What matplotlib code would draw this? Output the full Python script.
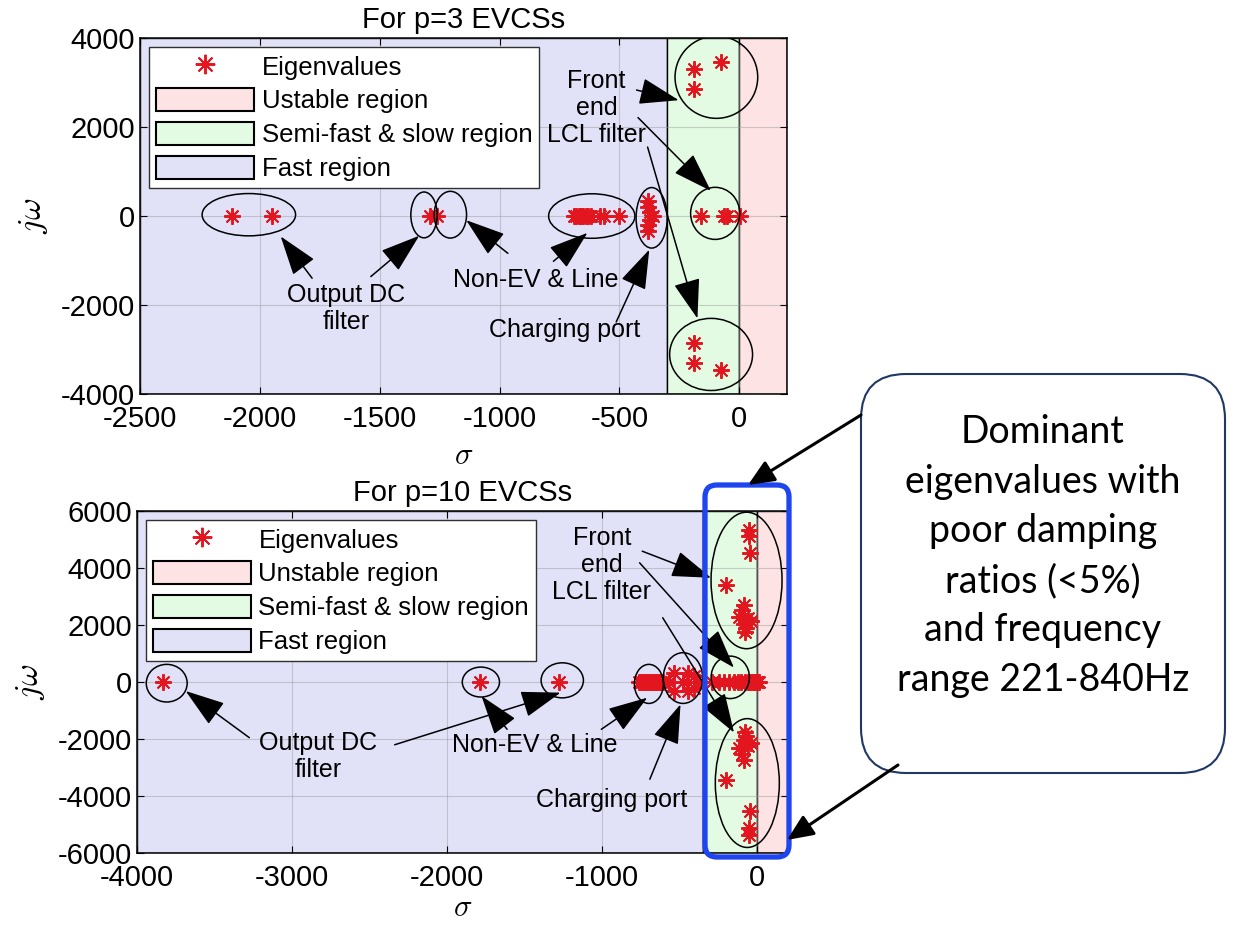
import numpy as np
import matplotlib
matplotlib.use('Agg')
import matplotlib.pyplot as plt
from matplotlib.patches import Ellipse, Patch, FancyBboxPatch, FancyArrowPatch
from matplotlib.lines import Line2D

plt.rcParams['font.family'] = ['Liberation Sans', 'DejaVu Sans']
plt.rcParams['mathtext.fontset'] = 'cm'
plt.rcParams['axes.unicode_minus'] = False

# ---- p=3 eigenvalues (sigma, j*omega)
p3_sigma = [-2115, -1950, -1290, -1260,
            -690, -680, -670, -660, -650, -640, -630, -620, -580, -565, -500,
            -380, -380, -380, -380, -372, -372, -360,
            -160, -65, -50, 5,
            -190, -190, -190, -190, -75, -75]
p3_omega = [0, 0, 0, 0,
            0, 0, 0, 0, 0, 0, 0, 0, 0, 0, 0,
            330, -330, 200, -200, 80, -80, 0,
            0, 0, 0, 0,
            3310, -3310, 2850, -2850, 3470, -3470]

# ---- p=10 eigenvalues
p10_sigma = [-3830, -1787, -1277,
             -760, -748, -736, -724, -712, -700, -688, -676, -664, -652, -640, -628, -616, -604,
             -565, -533, -533, -480, -447, -447, -405, -405, -372,
             -290, -245, -210, -180, -150, -120, -100, -80, -60, -45, -30, -20, -10, 0, 8, 15,
             -49, -49, -53, -53, -43, -43, -200, -200, -81, -81, -114, -114,
             -60, -60, -81, -81, -75, -75, -38, -38, -95, -95, -70, -70]
p10_omega = [0, 0, 0,
             0, 0, 0, 0, 0, 0, 0, 0, 0, 0, 0, 0, 0, 0,
             0, 300, -300, 0, 300, -300, 220, -220, 0,
             0, 0, 0, 0, 0, 0, 0, 0, 0, 0, 0, 0, 0, 0, 0, 0,
             5350, -5350, 5120, -5120, 4520, -4520, 3420, -3420, 2720, -2720, 2300, -2300,
             2240, -2240, 2030, -2030, 1740, -1740, 2140, -2140, 2520, -2520, 1900, -1900]

# group ellipses: (center sigma, center omega, width, height)
p3_groups = [(-2046, 30, 390, 950), (-1315, 25, 110, 1030), (-1205, 30, 135, 1050),
             (-615, 0, 360, 1000), (-365, -40, 130, 1360), (-100, 60, 205, 1170),
             (-95, 3120, 345, 1850), (-117, -3110, 346, 1620)]
p10_groups = [(-3808, -40, 264, 1320), (-1781, 0, 240, 1050), (-1256, 60, 273, 1230),
              (-697, -65, 187, 1370), (-477, 140, 254, 1780), (-172, 165, 247, 1490),
              (-67, 3565, 458, 4790), (-62, -3544, 413, 4520)]

# labels (text, sigma, omega)
p3_labels = [('Output DC\nfilter', -1640, -2070), ('Non-EV & Line', -850, -1434),
             ('Charging port', -728, -2560), ('Front\nend\nLCL filter', -595, 2435)]
p10_labels = [('Output DC\nfilter', -2830, -2625), ('Non-EV & Line', -1432, -2222),
              ('Charging port', -938, -4135), ('Front\nend\nLCL filter', -1000, 4100)]

# arrows: (tail sigma, tail omega, tip sigma, tip omega)
p3_arrows = [(-1782, -1397, -1913, -458), (-1537, -1360, -1335, -443),
             (-965, -838, -1139, -93), (-775, -1017, -633, -378),
             (-513, -2380, -375, -755), (-428, 2831, -252, 2603),
             (-422, 2212, -118, 565), (-382, 1549, -174, -2302)]
p10_arrows = [(-3275, -1952, -3686, -314), (-2337, -2200, -1267, -372),
              (-1612, -1658, -1777, -490), (-1004, -1658, -707, -548),
              (-691, -3410, -493, -782), (-740, 4592, -296, 3659),
              (-757, 4184, -148, 505), (-608, 2257, -148, -1773)]

red_c = '#fde3e3'
green_c = '#e2fbe2'
blue_c = '#e1e1f8'
star = (8, 2, 0)
star_col = '#e3161f'

fig = plt.figure(figsize=(12.35, 9.25), dpi=100)
ax1 = fig.add_axes([0.1134, 0.574, 0.5239, 0.3849])
ax2 = fig.add_axes([0.1109, 0.0778, 0.5271, 0.3697])


def draw_panel(ax, sig, om, groups, labels, arrows, xlim, ylim, split, title, unst, xpad):
    ax.axvspan(xlim[0], split, facecolor=blue_c, edgecolor='k', lw=1, zorder=0.5)
    ax.axvspan(split, 0, facecolor=green_c, edgecolor='k', lw=1, zorder=0.5)
    ax.axvspan(0, xlim[1], facecolor=red_c, edgecolor='k', lw=1, zorder=0.5)
    ax.plot(sig, om, linestyle='none', marker=star, ms=12, mew=1.4,
            color=star_col, zorder=3)
    for cx, cy, w, h in groups:
        ax.add_patch(Ellipse((cx, cy), w, h, fill=False, ec='k', lw=1.1, zorder=4))
    for txt, x, y in labels:
        ax.text(x, y, txt, ha='center', va='center', fontsize=18, linespacing=1.15, zorder=5)
    for x0, y0, x1, y1 in arrows:
        ax.annotate('', xy=(x1, y1), xytext=(x0, y0), zorder=5,
                    arrowprops=dict(arrowstyle='-|>,head_length=1.25,head_width=0.42',
                                    color='k', lw=1.1, mutation_scale=20,
                                    shrinkA=0, shrinkB=0))
    ax.set_xlim(xlim)
    ax.set_ylim(ylim)
    ax.grid(True, color='#a0a0a0', lw=0.8, alpha=0.5)
    ax.tick_params(direction='in', labelsize=21, top=True, right=True, length=5)
    ax.tick_params(axis='x', pad=8)
    ax.set_title(title, fontsize=21, pad=7)
    ax.set_xlabel(r'$\sigma$', fontsize=22, labelpad=xpad)
    ax.set_ylabel(r'$j\omega$', fontsize=24, labelpad=8)
    for s in ax.spines.values():
        s.set_linewidth(1.1)
    handles = [Line2D([], [], linestyle='none', marker=star, ms=14, mew=1.4, color=star_col),
               Patch(facecolor=red_c, edgecolor='k', lw=1.5),
               Patch(facecolor=green_c, edgecolor='k', lw=1.5),
               Patch(facecolor=blue_c, edgecolor='k', lw=1.5)]
    leg = ax.legend(handles, ['Eigenvalues', unst, 'Semi-fast & slow region', 'Fast region'],
                    loc='upper left', fontsize=18.5, fancybox=False, framealpha=1,
                    edgecolor='#303030', handlelength=3.8, handleheight=1.0,
                    labelspacing=0.33, handletextpad=0.3, borderpad=0.28,
                    borderaxespad=0.35)
    leg.get_frame().set_linewidth(1.0)
    leg.set_zorder(6)


draw_panel(ax1, p3_sigma, p3_omega, p3_groups, p3_labels, p3_arrows,
           (-2500, 200), (-4000, 4000), -300, 'For p=3 EVCSs', 'Ustable region', 6)
ax1.set_xticks([-2500, -2000, -1500, -1000, -500, 0])
ax1.set_yticks([-4000, -2000, 0, 2000, 4000])

draw_panel(ax2, p10_sigma, p10_omega, p10_groups, p10_labels, p10_arrows,
           (-4000, 200), (-6000, 6000), -350, 'For p=10 EVCSs', 'Unstable region', 1)
ax2.set_xticks([-4000, -3000, -2000, -1000, 0])
ax2.set_yticks([-6000, -4000, -2000, 0, 2000, 4000, 6000])

# highlight and call-out (figure inches)
tr = fig.dpi_scale_trans
fig.patches.append(FancyBboxPatch((7.05, 0.68), 0.84, 3.72,
                                  boxstyle='round,pad=0,rounding_size=0.12',
                                  transform=tr, fill=False, ec='#1f45ee', lw=3.8, zorder=10))
fig.patches.append(FancyBboxPatch((8.61, 1.52), 3.64, 3.99,
                                  boxstyle='round,pad=0,rounding_size=0.45',
                                  transform=tr, fc='white', ec='#1f3864', lw=1.5, zorder=10))
fig.text(10.43 / 12.35, 3.69 / 9.25,
         'Dominant\neigenvalues with\npoor damping\nratios (<5%)\nand frequency\nrange 221-840Hz',
         ha='center', va='center', fontsize=27, family=['Lato', 'DejaVu Sans'],
         linespacing=1.47, zorder=11)
for (x0, y0), (x1, y1) in [((8.61, 5.10), (7.48, 4.40)), ((8.98, 1.60), (7.87, 0.85))]:
    fig.patches.append(FancyArrowPatch(
        (x0, y0), (x1, y1), transform=tr, arrowstyle='-|>,head_length=0.8,head_width=0.35',
        mutation_scale=20, color='k', lw=2.2, zorder=11, shrinkA=0, shrinkB=0))

fig.savefig('out.png', dpi=100)
